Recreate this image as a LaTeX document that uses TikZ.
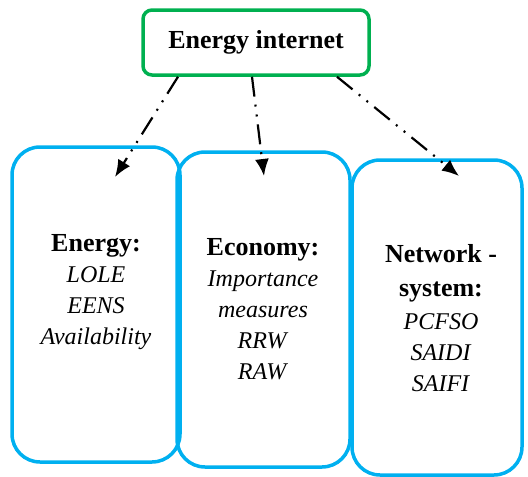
\documentclass[tikz,border=0pt]{standalone}
\usepackage{fontspec}
\setmainfont{Liberation Serif}
\usepackage{tikz}
\usetikzlibrary{arrows.meta,positioning,calc}

\definecolor{eigreen}{HTML}{00B050}
\definecolor{eiblue}{HTML}{00B0F0}

\begin{document}
\begin{tikzpicture}[
    x=1pt,y=-1pt,
    font=\fontsize{24}{31}\selectfont,
    head/.style={rounded corners=9pt, draw=eigreen, line width=3.5pt, minimum width=226pt, minimum height=65pt, align=center},
    area/.style={rounded corners=28pt, draw=eiblue, line width=3.5pt, inner sep=0pt},
    txt/.style={align=center, anchor=north, inner sep=0pt},
    ddarrow/.style={-{Latex[length=17pt,width=14pt]}, line width=2.2pt,
      dash pattern=on 20pt off 8pt on 2pt off 8pt on 2pt off 8pt}
  ]
    \useasboundingbox (0,0) rectangle (528,477);

    % Kopfknoten
    \node[head] (top) at (256,42.5) {\fontsize{26}{30}\selectfont\bfseries Energy internet};

    % drei Bereiche
    \node[area, minimum width=168pt, minimum height=315pt] (b1) at (96,304.5) {};
    \node[area, minimum width=173pt, minimum height=315pt] (b2) at (263.5,309.5) {};
    \node[area, minimum width=170pt, minimum height=315pt] (b3) at (437,317.5) {};

    % Texte in den Bereichen
    \node[txt] (t1) at (96,234) {{\fontsize{26}{30}\selectfont\bfseries Energy:}\\
      \textit{LOLE}\\ \textit{EENS}\\ \textit{Availability}};
    \node[txt] (t2) at (263,238.5) {{\fontsize{26}{30}\selectfont\bfseries Economy:}\\
      \textit{Importance}\\ \textit{measures}\\ \textit{RRW}\\ \textit{RAW}};
    \node[txt] (t3) at (441,244.5) {{\fontsize{26}{30}\selectfont\bfseries Network -}\\[3pt]
      {\fontsize{26}{30}\selectfont\bfseries system:}\\[2pt]
      \textit{PCFSO}\\ \textit{SAIDI}\\ \textit{SAIFI}};

    % Pfeilspitzen
    \coordinate (tip1) at (115,177);
    \coordinate (tip2) at (264,176);
    \coordinate (tip3) at (459,176);

    % Pfeile strichpunktiert
    \draw[ddarrow] ([xshift=-78pt]top.south) -- (tip1);
    \draw[ddarrow] ([xshift=-4pt]top.south) -- (tip2);
    \draw[ddarrow] ([xshift=81pt]top.south) -- (tip3);
  \end{tikzpicture}
\end{document}
